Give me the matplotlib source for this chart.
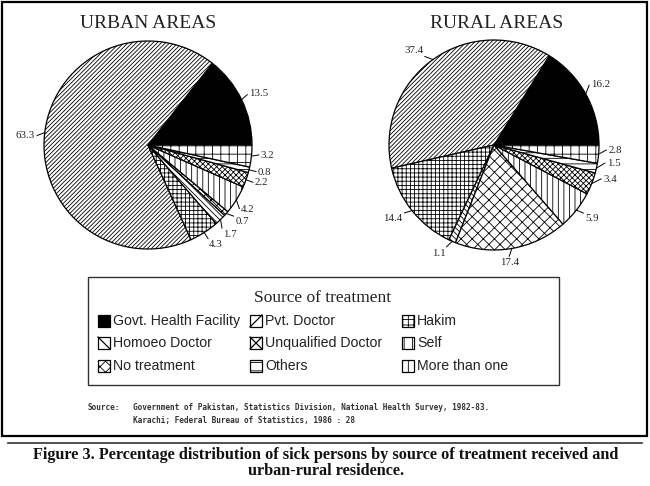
import matplotlib
matplotlib.use("Agg")
import matplotlib.pyplot as plt
import numpy as np
from matplotlib.patches import Rectangle
from matplotlib.lines import Line2D

# data
categories = ["Govt. Health Facility", "Pvt. Doctor", "Hakim",
              "Homoeo Doctor", "Unqualified Doctor", "Self",
              "No treatment", "Others", "More than one"]
urban = [13.5, 63.3, 4.3, 1.7, 0.7, 4.2, 2.2, 0.8, 3.2]
rural = [16.2, 37.4, 14.4, 1.1, 17.4, 5.9, 3.4, 1.5, 2.8]

fills = ['black'] + ['white'] * 8
hatches = [None, '////////', '++++', '\\\\\\\\\\\\', 'xxx', '|||', 'xxxxxx', '---', '++']
# legend keys: hatch for grid-like ones, corner lines ('/', '\\', 'x') for diagonals
key_hatches = [None, None, '+++', None, None, '||', 'xxx', '--', '+']
key_diag = [None, '/', None, '\\', 'x', None, None, None, None]

# label angle nudges (deg) so the small slices don't pile up
urban_nudge = [1, 2, 0, -2.5, 1.5, -3, 0, 0, 1]
rural_nudge = [3, 2.5, -1.5, -1.5, -2, 1, 4, 3.5, 2.5]

plt.rcParams['hatch.linewidth'] = 0.6
SERIF = 'Liberation Serif'

W, H = 650, 486
fig = plt.figure(figsize=(W / 100, H / 100), dpi=100)
fig.patch.set_facecolor('white')


def px(x, y):
    return x / W, 1 - y / H


def draw_pie(cx, cy, r, vals, nudge, title, tx):
    span = 1.4
    side = 2 * span * r
    ax = fig.add_axes([(cx - side / 2) / W, (H - cy - side / 2) / H, side / W, side / H])
    wedges, _ = ax.pie(vals, colors=fills, startangle=0, counterclock=True,
                       wedgeprops=dict(edgecolor='black', linewidth=0.9))
    for w, h in zip(wedges, hatches):
        if h:
            w.set_hatch(h)
    ax.set_xlim(-span, span)
    ax.set_ylim(-span, span)
    ax.axis('off')
    for w, v, d in zip(wedges, vals, nudge):
        mid = np.deg2rad((w.theta1 + w.theta2) / 2)
        lab = mid + np.deg2rad(d)
        ax.plot([np.cos(mid), 1.07 * np.cos(lab)], [np.sin(mid), 1.07 * np.sin(lab)],
                color='black', lw=0.7)
        c, s = np.cos(lab), np.sin(lab)
        ha = 'left' if c > 0.3 else ('right' if c < -0.3 else 'center')
        va = 'bottom' if s > 0.6 else ('top' if s < -0.6 else 'center')
        ax.text(1.09 * c, 1.09 * s, f"{v}", ha=ha, va=va, fontsize=7.8,
                family=SERIF, color='#222222')
    fig.text(*px(tx, 23), title, ha='center', va='center', fontsize=14,
             family=SERIF, color='#222222')


draw_pie(148, 145, 104, urban, urban_nudge, "URBAN AREAS", 148)
draw_pie(494, 145, 105, rural, rural_nudge, "RURAL AREAS", 497)

# legend box
x0, y0 = px(88, 385)
x1, y1 = px(559, 277)
fig.add_artist(Rectangle((x0, y0), x1 - x0, y1 - y0, transform=fig.transFigure,
                         facecolor='none', edgecolor='#333333', lw=1.0))
fig.text(*px(323, 298), "Source of treatment", ha='center', va='center',
         fontsize=12.5, family=SERIF, color='#222222')
col_x = [98, 250, 402]
row_y = [321, 343, 366]
ks = 12
for i, name in enumerate(categories):
    kx, ky = col_x[i % 3], row_y[i // 3]
    bx, by = px(kx, ky + ks / 2)
    bw, bh = ks / W, ks / H
    fig.add_artist(Rectangle((bx, by), bw, bh, transform=fig.transFigure,
                             facecolor=fills[i], edgecolor='black', lw=0.9,
                             hatch=key_hatches[i]))
    if key_diag[i] in ('/', 'x'):
        fig.add_artist(Line2D([bx, bx + bw], [by, by + bh], transform=fig.transFigure,
                              color='black', lw=0.9))
    if key_diag[i] in ('\\', 'x'):
        fig.add_artist(Line2D([bx, bx + bw], [by + bh, by], transform=fig.transFigure,
                              color='black', lw=0.9))
    fig.text(*px(kx + 15, ky), name, ha='left', va='center', fontsize=10.2,
             family='Liberation Sans', color='#222222')

# source note
src = ["Government of Pakistan, Statistics Division, National Health Survey, 1982-83.",
       "Karachi; Federal Bureau of Statistics, 1986 : 28"]
fig.text(*px(88, 408), "Source:", ha='left', va='center', fontsize=5.6,
         family='DejaVu Sans Mono', weight='bold', color='#333333')
for k, line in enumerate(src):
    fig.text(*px(133, 408 + 12 * k), line, ha='left', va='center', fontsize=5.6,
             family='DejaVu Sans Mono', weight='bold', color='#333333')

# outer frame and rule
fx0, fy0 = px(2, 436)
fx1, fy1 = px(647, 2)
fig.add_artist(Rectangle((fx0, fy0), fx1 - fx0, fy1 - fy0, transform=fig.transFigure,
                         facecolor='none', edgecolor='black', lw=1.6))
fig.add_artist(Line2D([8 / W, 642 / W], [1 - 443 / H] * 2, transform=fig.transFigure,
                      color='#333333', lw=1.2))

caption = ("Figure 3. Percentage distribution of sick persons by source of treatment received and\n"
           "urban-rural residence.")
fig.text(*px(326, 463), caption, ha='center', va='center', fontsize=11.7,
         family=SERIF, weight='bold', color='#111111', linespacing=1.0)

fig.savefig("out.png", dpi=100, facecolor='white')
